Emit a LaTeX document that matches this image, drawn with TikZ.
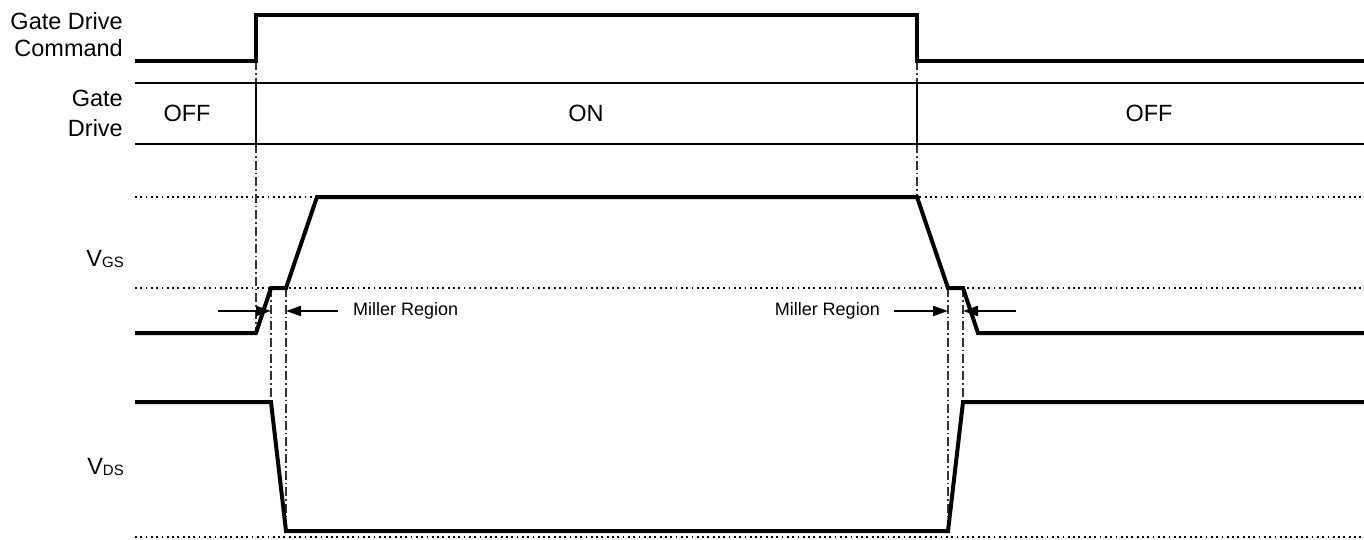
\documentclass[tikz,border=0pt]{standalone}
\usepackage{fontspec}
\setmainfont{Liberation Sans}
\usetikzlibrary{arrows.meta}
\newcommand\subtxt[1]{{\fontsize{15}{15}\selectfont\raisebox{-1.5pt}{#1}}}
\tikzset{
  wave/.style ={line width=4pt, line join=miter},
  band/.style ={line width=2.1pt},
  lvl/.style  ={line width=1.8pt, dash pattern=on 1.8pt off 3.5pt},
  guide/.style={line width=1.4pt, draw=black!80, dash pattern=on 9pt off 3pt on 1.6pt off 3pt},
  lbl/.style  ={font=\fontsize{23.5}{27}\selectfont, inner sep=0pt},
  mlbl/.style ={font=\fontsize{18}{20}\selectfont, inner sep=0pt},
  marr/.style ={line width=2.2pt, -{Triangle[length=15pt,width=10pt]}},
  >={Latex}
}
\begin{document}
\begin{tikzpicture}[x=1pt,y=-1pt]
\useasboundingbox (0,0) rectangle (1364,540);

% -------- row labels --------
\node[lbl, align=right, anchor=east] (cmdlbl) at (123,35) {Gate Drive\\Command};
\node[lbl, align=right, anchor=east, font=\fontsize{23.5}{30}\selectfont] (drvlbl) at (123,113) {Gate\\Drive};
\node[lbl, anchor=east] (vgslbl) at (124,259) {V\subtxt{GS}};
\node[lbl, anchor=east] (vdslbl) at (124,467) {V\subtxt{DS}};

% -------- guides --------
\draw[guide] (256,61) -- (256,333);
\draw[guide] (917,61) -- (917,197);
\draw[guide] (271,288) -- (271,402);
\draw[guide] (286,288) -- (286,531);
\draw[guide] (948,288) -- (948,531);
\draw[guide] (963,288) -- (963,402);

% -------- gate drive command --------
\draw[wave] (135,61) -- (256,61) -- (256,15) -- (917,15) -- (917,61) -- (1364,61);

% -------- gate drive state --------
\draw[band] (135,83) -- (1364,83);
\draw[band] (135,144) -- (1364,144);
\draw[band] (256,83) -- (256,144);
\draw[band] (917,83) -- (917,144);
\node[lbl] (off1) at (187,113) {OFF};
\node[lbl] (on1)  at (586,113) {ON};
\node[lbl] (off2) at (1149,113) {OFF};

% -------- VGS --------
\draw[lvl] (135,197) -- (1364,197);
\draw[lvl] (135,288) -- (1364,288);
\draw[wave] (135,333) -- (256,333) -- (271,288) -- (286,288) -- (317,197)
  -- (917,197) -- (948,288) -- (963,288) -- (978,333) -- (1364,333);

% -------- VDS --------
\draw[lvl] (135,537) -- (1364,537);
\draw[wave] (135,402) -- (271,402) -- (286,531) -- (948,531) -- (963,402) -- (1364,402);

% -------- Miller regions --------
\node[mlbl, anchor=west] (mil1) at (353,311) {Miller Region};
\node[mlbl, anchor=east] (mil2) at (880,311) {Miller Region};
\draw[marr] (218,311) -- (271,311);
\draw[marr] (mil1.west) ++(-15,0) -- (286,311);
\draw[marr] (mil2.east) ++(14,0) -- (948,311);
\draw[marr] (1016,311) -- (963,311);

\end{tikzpicture}
\end{document}
